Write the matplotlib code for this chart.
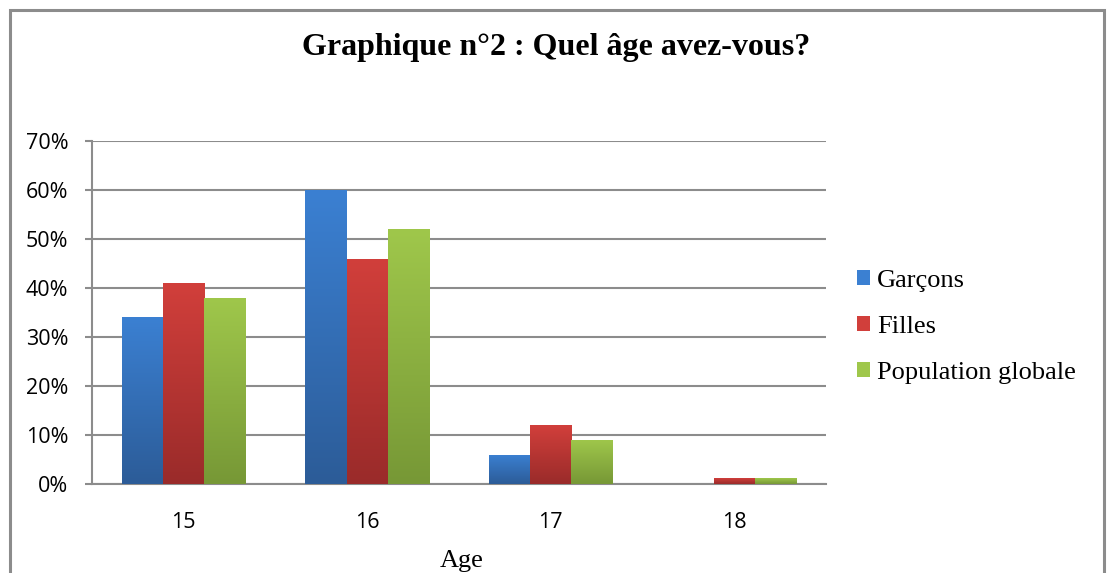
import matplotlib
matplotlib.use("Agg")
import matplotlib.pyplot as plt
import numpy as np
from matplotlib.colors import LinearSegmentedColormap
from matplotlib.patches import Rectangle

# Données
ages = ["15", "16", "17", "18"]
garcons = [34, 60, 6, 0]
filles = [41, 46, 12, 1.2]
population = [38, 52, 9, 1.2]
series = ["Garçons", "Filles", "Population globale"]

# couleurs (haut, bas) pour le dégradé
couleurs = [("#3b80d2", "#2c5c98"), ("#d13f3b", "#9a2b2a"), ("#9fc74b", "#779836")]

fig = plt.figure(figsize=(11.09, 5.73), dpi=100)
W, H = 1109, 573
ax = fig.add_axes([92 / W, 1 - 484 / H, (826 - 92) / W, (484 - 141) / H])

# cadre du graphique
fig.patches.append(Rectangle((10 / W, -0.1), (1104 - 10) / W, 1.1 - 10 / H,
                             transform=fig.transFigure, fill=False,
                             edgecolor="#8c8c8c", linewidth=2.2))

x = np.arange(len(ages))
larg = 0.225
valeurs = [garcons, filles, population]
poignees = []
for i, (vals, (c_haut, c_bas)) in enumerate(zip(valeurs, couleurs)):
    cmap = LinearSegmentedColormap.from_list("g%d" % i, [c_bas, c_haut])
    pos = x + (i - 1) * larg
    bars = ax.bar(pos, vals, larg, color=c_haut, linewidth=0, zorder=3,
                  label=series[i])
    poignees.append(bars)
    for b in bars:
        h = b.get_height()
        if h <= 0:
            continue
        x0 = b.get_x()
        grad = np.linspace(1, 0, 100).reshape(-1, 1)
        im = ax.imshow(grad, cmap=cmap, aspect="auto", zorder=4,
                       extent=[x0, x0 + larg, 0, h], origin="upper",
                       interpolation="bicubic")
        im.set_clip_path(b)

ax.set_xlim(-0.5, 3.5)
ax.set_ylim(0, 70)
ax.set_yticks(np.arange(0, 71, 10))
ax.set_yticklabels(["%d%%" % v for v in range(0, 71, 10)],
                   fontfamily="Open Sans", fontsize=15.5)
ax.set_xticks(x)
ax.set_xticklabels(ages, fontfamily="Open Sans", fontsize=15.5)
ax.tick_params(axis="y", length=5, color="#8c8c8c", width=1.5, pad=12)
ax.tick_params(axis="x", length=0, pad=20)
ax.yaxis.grid(True, color="#8c8c8c", linewidth=1.5, zorder=0)
ax.set_axisbelow(True)
for s in ["top", "right"]:
    ax.spines[s].set_visible(False)
ax.spines["left"].set_color("#8c8c8c")
ax.spines["left"].set_linewidth(1.5)
ax.spines["bottom"].set_color("#8c8c8c")
ax.spines["bottom"].set_linewidth(1.5)

fig.text(556 / W, 1 - 48 / H, "Graphique n°2 : Quel âge avez-vous?",
         ha="center", va="center", fontfamily="Liberation Serif",
         fontweight="bold", fontsize=23)
fig.text(462 / W, 1 - 561 / H, "Age", ha="center", va="center",
         fontfamily="Liberation Serif", fontsize=19)

ax.legend(handles=poignees, loc="center left", bbox_to_anchor=(846 / W, 1 - 327 / H),
          bbox_transform=fig.transFigure, frameon=False, borderaxespad=0,
          prop={"family": "Liberation Serif", "size": 19},
          handlelength=0.5, handleheight=0.5, handletextpad=0.27,
          labelspacing=0.91)

fig.savefig("out.png", dpi=100)
